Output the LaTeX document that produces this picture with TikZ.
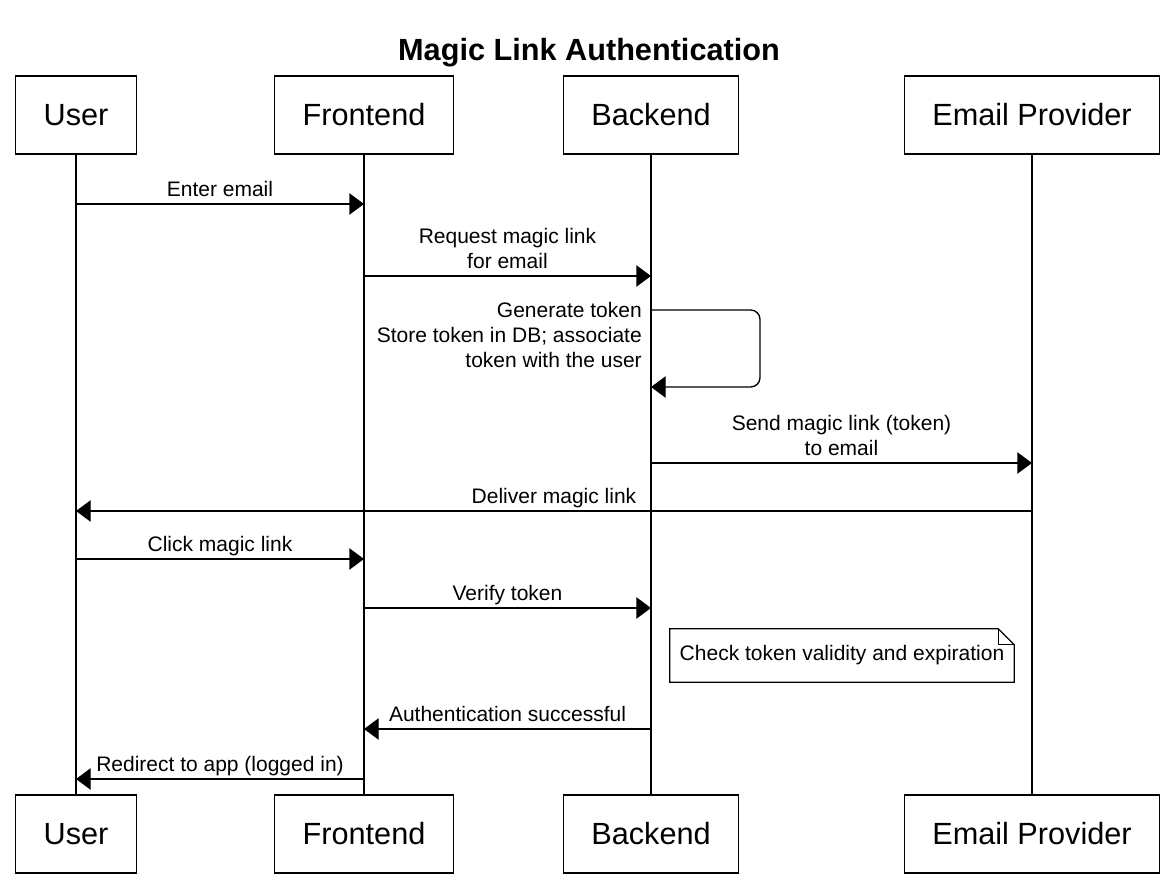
\documentclass[tikz,border=0pt]{standalone}
\usepackage{fontspec}
\setmainfont{Liberation Sans}
\usetikzlibrary{arrows.meta,calc}

\tikzset{
  actor/.style={draw, line width=1pt, minimum height=58.5pt, inner xsep=21pt,
    font=\fontsize{23}{27}\selectfont},
  life/.style={line width=1pt},
  msg/.style={line width=1pt, -{Triangle[length=11pt,width=16pt]}},
  lbl/.style={inner sep=0pt, anchor=base, align=center,
    font=\fontsize{15.75}{18.75}\selectfont},
}

\begin{document}
\begin{tikzpicture}[x=0.75pt,y=-0.75pt]
  \useasboundingbox (0,0) rectangle (1172,887);
  \node[anchor=base, font=\bfseries\fontsize{23}{27}\selectfont] (title) at (589,61) {Magic Link Authentication};

  % participants, top and bottom
  \node[actor] (userT) at (76,115) {User};
  \node[actor] (frontT) at (364,115) {Frontend};
  \node[actor] (backT) at (651,115) {Backend};
  \node[actor] (mailT) at (1032,115) {Email Provider};
  \node[actor] (userB) at (76,834) {User};
  \node[actor] (frontB) at (364,834) {Frontend};
  \node[actor] (backB) at (651,834) {Backend};
  \node[actor] (mailB) at (1032,834) {Email Provider};

  \draw[life] (userT) -- (userB);
  \draw[life] (frontT) -- (frontB);
  \draw[life] (backT) -- (backB);
  \draw[life] (mailT) -- (mailB);

  % messages
  \draw[msg] (userT |- 0,204) -- node[lbl, yshift=5.25pt] (enter) {Enter email} (frontT |- 0,204);
  \draw[msg] (frontT |- 0,276) -- node[lbl, yshift=5.25pt] (request) {Request magic link\\for email} (backT |- 0,276);
  \draw[msg, rounded corners=7pt] (backT |- 0,310) -- ++(109,0) -- ++(0,77) -- (backT |- 0,387);
  \node[lbl, anchor=base east, align=right] (generate) at ($(backT |- 0,368)+(-9,0)$)
    {Generate token\\Store token in DB; associate\\token with the user};
  \draw[msg] (backT |- 0,463) -- node[lbl, yshift=5.25pt] (send) {Send magic link (token)\\to email} (mailT |- 0,463);
  \draw[msg] (mailT |- 0,511) -- node[lbl, yshift=5.25pt] (deliver) {Deliver magic link} (userT |- 0,511);
  \draw[msg] (userT |- 0,559) -- node[lbl, yshift=5.25pt] (click) {Click magic link} (frontT |- 0,559);
  \draw[msg] (frontT |- 0,608) -- node[lbl, yshift=5.25pt] (verify) {Verify token} (backT |- 0,608);

  % note
  \node[lbl, anchor=center, minimum width=258pt, minimum height=39.75pt] (check) at (842,655.5)
    {Check token validity and expiration};
  \draw[life] (check.north west) -- ($(check.north east)+(-16,0)$) -- ($(check.north east)+(0,16)$)
    -- (check.south east) -- (check.south west) -- cycle;
  \draw[life] ($(check.north east)+(-16,0)$) -- ($(check.north east)+(-16,16)$) -- ($(check.north east)+(0,16)$);

  \draw[msg] (backT |- 0,729) -- node[lbl, yshift=5.25pt] (success) {Authentication successful} (frontT |- 0,729);
  \draw[msg] (frontT |- 0,779) -- node[lbl, yshift=5.25pt] (redirect) {Redirect to app (logged in)} (userT |- 0,779);
\end{tikzpicture}
\end{document}
